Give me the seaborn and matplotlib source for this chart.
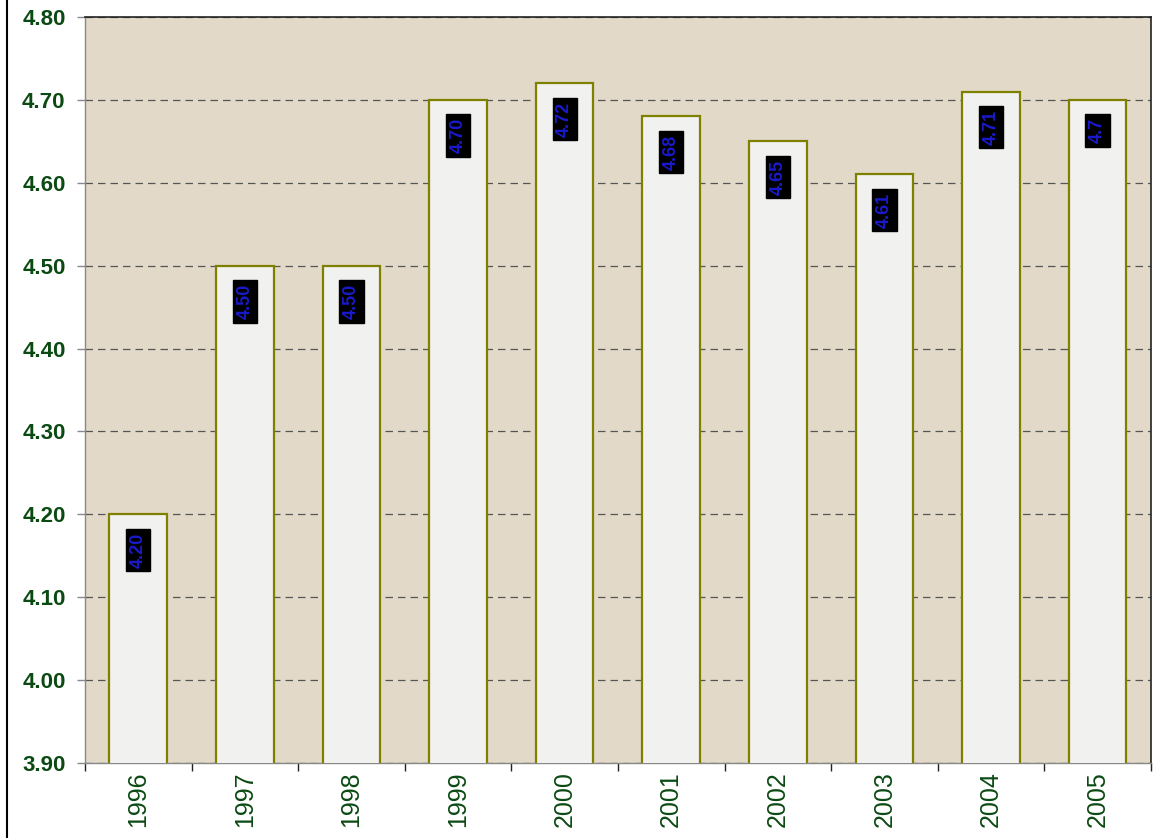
import matplotlib
matplotlib.use('Agg')
import matplotlib.pyplot as plt
import seaborn as sns
import pandas as pd
import numpy as np
from matplotlib.lines import Line2D

years = ['1996', '1997', '1998', '1999', '2000', '2001', '2002', '2003', '2004', '2005']
values = [4.20, 4.50, 4.50, 4.70, 4.72, 4.68, 4.65, 4.61, 4.71, 4.70]
labels = ['4.20', '4.50', '4.50', '4.70', '4.72', '4.68', '4.65', '4.61', '4.71', '4.7']

df = pd.DataFrame({'year': years, 'value': values})

sns.set_style('white')
plt.rcParams['font.family'] = ['Liberation Sans', 'DejaVu Sans']

textGreen = '#0b4a12'
fig = plt.figure(figsize=(11.72, 8.38), dpi=100)
ax = fig.add_axes([0.0725, 0.0895, 0.9095, 0.8902])
ax.set_facecolor('#e2d9c8')

sns.barplot(data=df, x='year', y='value', color='#f1f1f0', width=0.54,
            edgecolor='#808000', linewidth=1.6, ax=ax, zorder=3)
for bar in ax.patches:
    bar.set_facecolor('#f1f1f0')

ax.set_ylim(3.90, 4.80)
ax.set_xlim(-0.5, len(years) - 0.5)
ax.set_yticks(np.arange(3.90, 4.801, 0.10))
ax.set_yticklabels(['%.2f' % t for t in np.arange(3.90, 4.801, 0.10)],
                   fontsize=16, fontweight='bold', color=textGreen)
ax.yaxis.grid(True, linestyle=(0, (6, 4)), color='#555555', linewidth=0.9, zorder=1)
ax.set_axisbelow(True)

ax.set_xticks(range(len(years)))
ax.set_xticklabels(years, rotation=90, fontsize=18, color=textGreen)
ax.set_xticks(np.arange(-0.5, len(years)), minor=True)
ax.tick_params(axis='x', which='major', length=0, pad=6)
ax.tick_params(axis='x', which='minor', length=6, color='#222222', width=1, bottom=True)
ax.tick_params(axis='y', which='major', length=6, color='#888888', width=1, left=True, pad=8)
ax.set_xlabel('')
ax.set_ylabel('')

for side in ['left', 'bottom']:
    ax.spines[side].set_color('#888888')
    ax.spines[side].set_linewidth(1)
for side in ['top', 'right']:
    ax.spines[side].set_color('#222222')
    ax.spines[side].set_linewidth(1.2)

for i, (v, lab) in enumerate(zip(values, labels)):
    ax.annotate(lab, xy=(i, v), xytext=(0, -13), textcoords='offset points',
                ha='center', va='top', rotation=90, fontsize=13, fontweight='bold',
                color='#1a1acc',
                bbox=dict(boxstyle='square,pad=0.2', facecolor='black', edgecolor='black'),
                zorder=5)

fig.add_artist(Line2D([7 / 1172, 7 / 1172], [0, 1], color='black', linewidth=1.5,
                      transform=fig.transFigure))

fig.savefig('out.png', dpi=100)
